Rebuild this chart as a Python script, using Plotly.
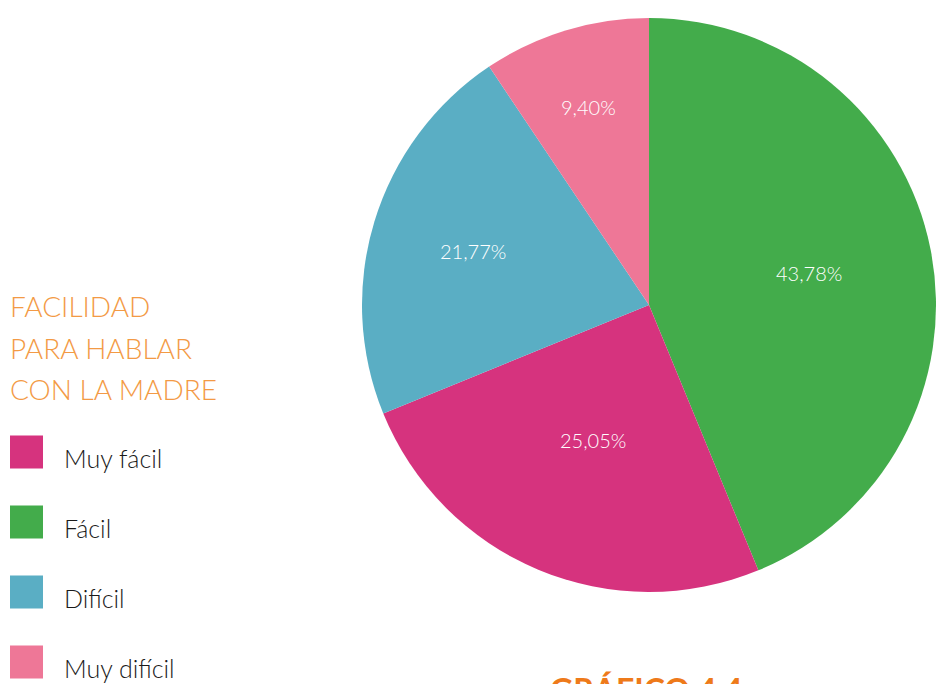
import math
import plotly.graph_objects as go

# Data (legend order)
categories = ["Muy fácil", "Fácil", "Difícil", "Muy difícil"]
values = [25.05, 43.78, 21.77, 9.40]
colors = ["#D6337E", "#43AC4B", "#5AAEC4", "#EE7797"]
# clockwise order of slices starting at 12 o'clock
pie_order = [1, 0, 2, 3]
legend_title = ["FACILIDAD", "PARA HABLAR", "CON LA MADRE"]
chart_title = "GRÁFICO 4.4"

W, H = 936, 684
FONT = "Lato"

p_labels = [categories[i] for i in pie_order]
p_values = [values[i] for i in pie_order]
p_colors = [colors[i] for i in pie_order]
p_text = [f"{v:.2f}".replace(".", ",") + "%" for v in p_values]

dom_x = [362 / W, 1.0]
dom_y = [1 - 592 / H, 1 - 18 / H]

fig = go.Figure(go.Pie(
    labels=p_labels, values=p_values, sort=False, direction="clockwise",
    marker=dict(colors=p_colors, line=dict(width=0)),
    textinfo="none",
    domain=dict(x=dom_x, y=dom_y),
    showlegend=False, hoverinfo="label+percent",
))

shapes = []
annotations = []

# pie value labels placed at slice mid-angle (radial fraction per slice is a layout choice)
cx = (dom_x[0] + dom_x[1]) / 2 * W
cy = (1 - (dom_y[0] + dom_y[1]) / 2) * H
r = min((dom_x[1] - dom_x[0]) * W, (dom_y[1] - dom_y[0]) * H) / 2
label_frac = [0.57, 0.51, 0.64, 0.72]
total = sum(p_values)
cum = 0.0
for v, t, f in zip(p_values, p_text, label_frac):
    mid = (cum + v / 2) / total * 2 * math.pi
    cum += v
    px = cx + f * r * math.sin(mid)
    py = cy - f * r * math.cos(mid)
    annotations.append(dict(
        x=px / W, y=1 - py / H, xref="paper", yref="paper",
        xanchor="center", yanchor="middle", showarrow=False, text=t,
        font=dict(family=FONT, size=20, color="white", weight=300)))

for k, line in enumerate(legend_title):
    annotations.append(dict(
        x=8 / W, y=1 - (306 + 41.5 * k) / H, xref="paper", yref="paper",
        xanchor="left", yanchor="middle", showarrow=False, text=line,
        font=dict(family=FONT, size=28, color="#F39A45", weight=300)))

for k, (cat, col) in enumerate(zip(categories, colors)):
    yc = 452 + 70 * k
    shapes.append(dict(type="rect", xref="paper", yref="paper",
                       x0=10 / W, x1=43 / W, y0=1 - (yc - 16.5) / H, y1=1 - (yc + 16.5) / H,
                       fillcolor=col, line=dict(width=0)))
    annotations.append(dict(
        x=62 / W, y=1 - (yc + 6) / H, xref="paper", yref="paper",
        xanchor="left", yanchor="middle", showarrow=False, text=cat,
        font=dict(family=FONT, size=25, color="#1a1a1a", weight=300)))

annotations.append(dict(
    x=646 / W, y=1 - 668 / H, xref="paper", yref="paper",
    xanchor="center", yanchor="top", showarrow=False, text=chart_title,
    font=dict(family=FONT, size=32, color="#EE7A1A", weight=700)))

fig.update_layout(
    width=W, height=H, margin=dict(l=0, r=0, t=0, b=0),
    paper_bgcolor="white", plot_bgcolor="white",
    shapes=shapes, annotations=annotations,
)

fig.write_html("out.html", config={"displayModeBar": False},
               post_script="document.body.style.margin='0';document.body.style.overflow='hidden';")
